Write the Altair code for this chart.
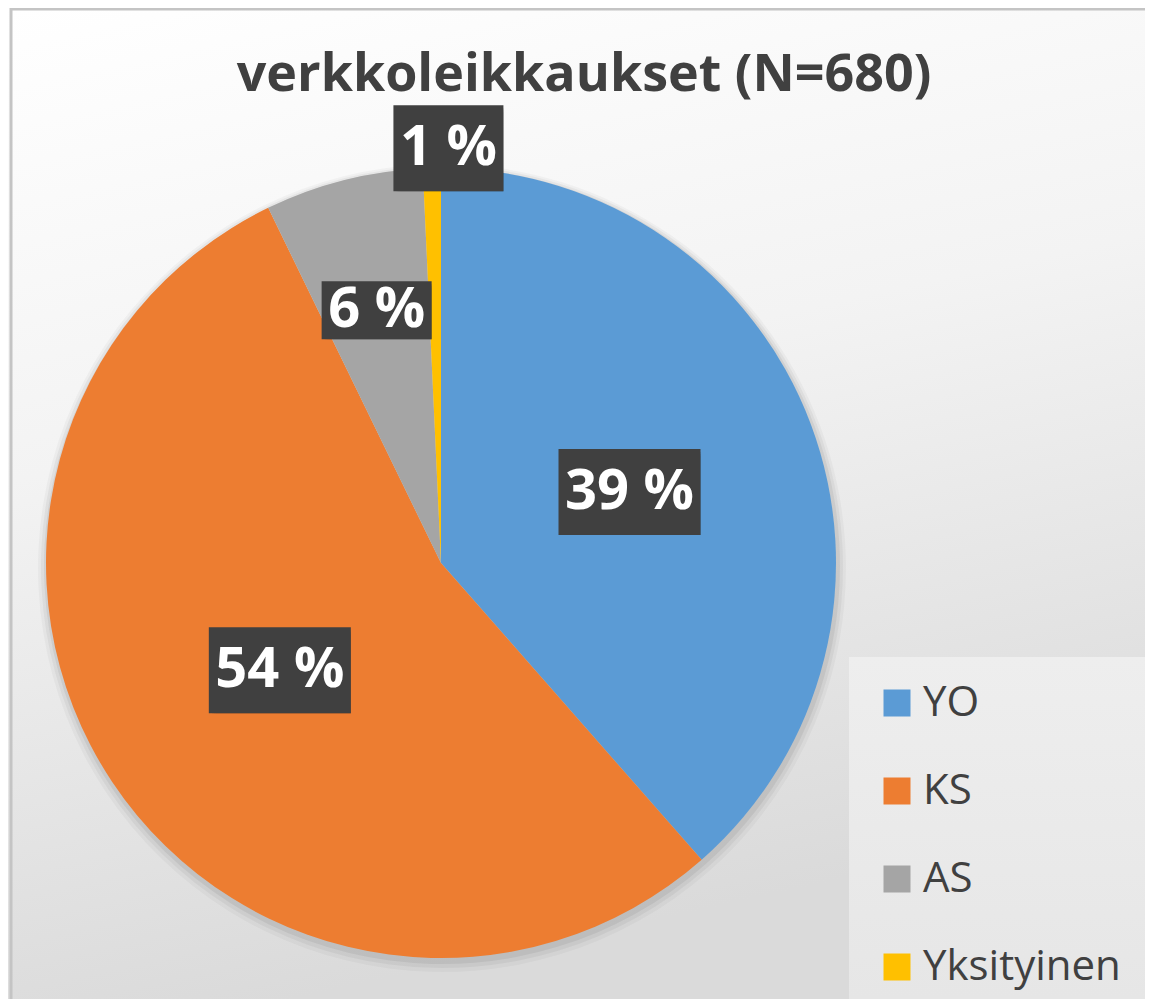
import altair as alt
import pandas as pd

# ---- data ----
categories = ["YO", "KS", "AS", "Yksityinen"]
counts = [262, 369, 44, 5]          # N = 680
colors = ["#5B9BD5", "#ED7D31", "#A5A5A5", "#FFC000"]
title_text = "verkkoleikkaukset (N=680)"

# ---- layout (chart pixels) ----
W, H = 1137, 991
CX, CY, R = 433, 555, 395
# label placement: radius fraction, x nudge, box height
label_layout = {
    "YO": (0.51, 0, 86),
    "KS": (0.49, 0, 86),
    "AS": (0.66, 0, 58),
    "Yksityinen": (1.05, 17, 86),
}
FONT = "Open Sans"
DARK = "#404040"

df = pd.DataFrame({"category": categories, "count": counts, "order": list(range(len(categories)))})
df["lr"] = [label_layout[c][0] * R for c in categories]
df["ldx"] = [label_layout[c][1] for c in categories]
df["bh"] = [label_layout[c][2] for c in categories]

one = pd.DataFrame({"k": [0]})

# background with gradient
bg = alt.Chart(one).mark_rect(
    fill=alt.LinearGradient(
        gradient="linear",
        stops=[
            alt.GradientStop(color="#ffffff", offset=0),
            alt.GradientStop(color="#f3f3f3", offset=0.45),
            alt.GradientStop(color="#dadada", offset=1),
        ],
        x1=0, y1=0, x2=0.25, y2=1,
    ),
    stroke=None,
).encode(x=alt.value(0), x2=alt.value(W), y=alt.value(0), y2=alt.value(H))

border_left = alt.Chart(one).mark_rule(color="#c4c4c4", strokeWidth=3).encode(
    x=alt.value(3), y=alt.value(0), y2=alt.value(H))
border_top = alt.Chart(one).mark_rule(color="#c4c4c4", strokeWidth=3).encode(
    y=alt.value(1), x=alt.value(2), x2=alt.value(W))

legend_bg = alt.Chart(one).mark_rect(
    fill=alt.LinearGradient(
        gradient="linear",
        stops=[
            alt.GradientStop(color="#eeeeee", offset=0),
            alt.GradientStop(color="#e6e6e6", offset=1),
        ],
        x1=0, y1=0, x2=0, y2=1,
    ),
).encode(x=alt.value(841), x2=alt.value(W), y=alt.value(649), y2=alt.value(H))

title = alt.Chart(one).mark_text(
    text=title_text, font=FONT, fontWeight="bold", fontSize=52, color=DARK,
    align="center", baseline="alphabetic",
).encode(x=alt.value(576), y=alt.value(83))

theta = alt.Theta("count:Q", stack=True)
order = alt.Order("order:Q")

shadows = []
for dr, dy, op in [(9, 5, 0.03), (6, 4, 0.045), (3, 3, 0.06)]:
    shadows.append(
        alt.Chart(df).mark_arc(radius=R + dr, color="#000000", opacity=op, stroke=None)
        .encode(theta=theta, order=order, x=alt.value(CX + 1), y=alt.value(CY + dy))
    )

pie = alt.Chart(df).mark_arc(radius=R, stroke=None).encode(
    theta=theta,
    order=order,
    color=alt.Color(
        "category:N",
        scale=alt.Scale(domain=categories, range=colors),
        legend=alt.Legend(
            title=None, orient="none", legendX=868, legendY=674,
            symbolType="square", symbolSize=729, symbolStrokeWidth=0,
            symbolOpacity=1,
            labelFont=FONT, labelFontSize=42, labelColor=DARK, labelLimit=0,
            labelOffset=5, rowPadding=46, padding=0,
        ),
    ),
    x=alt.value(CX),
    y=alt.value(CY),
)

lab = alt.Chart(df).transform_joinaggregate(total="sum(count)").transform_window(
    cum="sum(count)", sort=[alt.SortField("order")], frame=[None, 0]
).transform_calculate(
    mid="(datum.cum - datum.count / 2) / datum.total * 2 * PI",
    pct="round(datum.count / datum.total * 100) + ' %'",
    lx=f"{CX} + datum.lr * sin(datum.mid) + datum.ldx",
    ly=f"{CY} - datum.lr * cos(datum.mid)",
    bw="32 * length(datum.pct) + 14",
    bx1="datum.lx - datum.bw / 2",
    bx2="datum.lx + datum.bw / 2",
    by1="datum.ly - datum.bh / 2",
    by2="datum.ly + datum.bh / 2",
)

box_shadow = []
for off, op in [(7, 0.08), (5, 0.14), (3, 0.2)]:
    box_shadow.append(
        lab.mark_rect(color="#000000", opacity=op).encode(
            x=alt.X("bx1:Q", scale=None), x2="bx2:Q",
            y=alt.Y("by1:Q", scale=None), y2="by2:Q",
            xOffset=alt.value(off), yOffset=alt.value(off),
        )
    )

box = lab.mark_rect(color="#404040").encode(
    x=alt.X("bx1:Q", scale=None), x2="bx2:Q",
    y=alt.Y("by1:Q", scale=None), y2="by2:Q",
)

txt = lab.mark_text(
    font=FONT, fontWeight="bold", fontSize=56, color="#ffffff",
    align="center", baseline="middle",
).encode(
    x=alt.X("lx:Q", scale=None), y=alt.Y("ly:Q", scale=None), text="pct:N"
)

chart = alt.layer(
    bg, border_left, border_top, legend_bg, title, *shadows, pie, *box_shadow, box, txt
).properties(
    width=W, height=H, padding=0, autosize=alt.AutoSizeParams(type="none")
).configure_view(stroke=None)

chart.save("out.html", embed_options={"renderer": "svg", "actions": False})
